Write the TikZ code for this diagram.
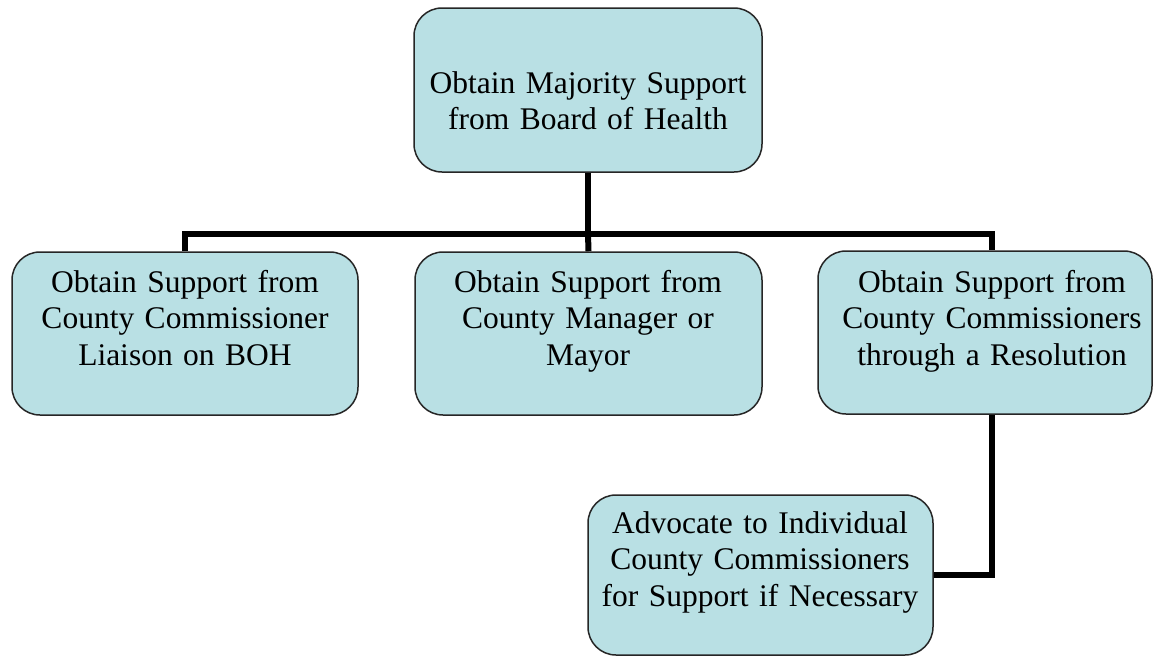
\documentclass[tikz,border=0pt]{standalone}
\usepackage{fontspec}
\setmainfont{Liberation Serif}
\definecolor{boxfill}{RGB}{185,224,228}
\begin{document}
\begin{tikzpicture}[x=1pt,y=-1pt,
  box/.style={draw=black!85, line width=1.5pt, fill=boxfill, rounded corners=28pt, inner sep=0pt, minimum height=163pt},
  txt/.style={font=\fontsize{31.5}{36.5}\selectfont, align=center, text width=345pt, anchor=base, inner sep=0pt},
  conn/.style={line width=6pt, draw=black, line join=miter}]
\useasboundingbox[fill=white] (0,0) rectangle (1154,656);
% boxes
\node[box, minimum width=348pt, minimum height=164pt] (top) at (588,90) {};
\node[box, minimum width=346pt] (lb) at (185,333.5) {};
\node[box, minimum width=347pt] (mb) at (588.5,333.5) {};
\node[box, minimum width=334pt] (rb) at (985,332.5) {};
\node[box, minimum width=345pt, minimum height=160pt] (bb) at (760.5,575) {};
% connectors
\coordinate (hub) at (588,234);
\coordinate (rbt) at ([xshift=7pt]rb.north);
\coordinate (rbb) at ([xshift=7pt]rb.south);
\draw[conn] (top.south) -- (hub);
\draw[conn] (lb.north) -- (lb.north |- hub) -- (rbt |- hub) -- (rbt);
\draw[conn] (hub) -- (mb.north);
\draw[conn] (rbb) -- (rbb |- bb.east) -- (bb.east);
% texts
\node[txt] (tt) at (588,93) {Obtain Majority Support\\from Board of Health};
\node[txt] (lt) at (185,292) {Obtain Support from\\County Commissioner\\Liaison on BOH};
\node[txt] (mt) at (588,292) {Obtain Support from\\County Manager or\\Mayor};
\node[txt] (rt) at (992,292) {Obtain Support from\\County Commissioners\\through a Resolution};
\node[txt] (bt) at (760,533) {Advocate to Individual\\County Commissioners\\for Support if Necessary};
\end{tikzpicture}
\end{document}
